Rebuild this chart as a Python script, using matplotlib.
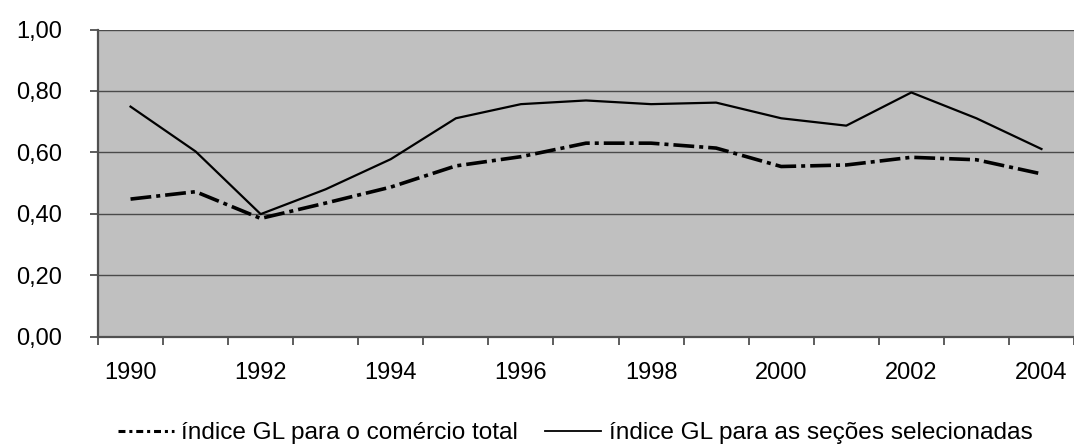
import numpy as np
import matplotlib.pyplot as plt
from matplotlib.lines import Line2D
from matplotlib.ticker import FuncFormatter

plt.rcParams['font.family'] = ['Liberation Sans', 'DejaVu Sans']
plt.rcParams['lines.scale_dashes'] = False

years = [1990, 1991, 1992, 1993, 1994, 1995, 1996, 1997, 1998, 1999,
         2000, 2001, 2002, 2003, 2004]
gl_total = [0.448, 0.472, 0.385, 0.435, 0.487, 0.556, 0.586, 0.630, 0.630,
            0.614, 0.554, 0.559, 0.584, 0.576, 0.530]
gl_secoes = [0.749, 0.603, 0.399, 0.480, 0.578, 0.711, 0.757, 0.769, 0.757,
             0.762, 0.711, 0.687, 0.795, 0.711, 0.611]
label_total = 'índice GL para o comércio total'
label_secoes = 'índice GL para as seções selecionadas'

W, H = 1074, 445
fig = plt.figure(figsize=(W / 100, H / 100), dpi=100)
ax = fig.add_axes([98 / W, (H - 336.7) / H, 976 / W, (336.7 - 29.5) / H])
ax.set_facecolor('#c0c0c0')

x = np.arange(len(years))
ax.plot(x, gl_total, color='black', lw=2.6, dashes=(15, 3.6, 2.9, 3.6),
        solid_capstyle='butt', dash_capstyle='butt')
ax.plot(x, gl_secoes, color='black', lw=1.6)

ax.set_xlim(-0.5, -0.5 + 976 / 65.36)
ax.set_ylim(0, 1)

# y axis
ax.set_yticks(np.arange(0, 1.01, 0.2))
ax.yaxis.set_major_formatter(FuncFormatter(lambda v, p: f'{v:.2f}'.replace('.', ',')))
ax.yaxis.grid(True, color='#4a4a4a', lw=1.0)
ax.set_axisbelow(True)

# x axis: tick marks between categories, labels at every other year
ax.set_xticks(np.arange(-0.5, len(years), 1.0))
ax.set_xticklabels([])
ax.set_xticks(x[::2], minor=True)
ax.set_xticklabels([str(y) for y in years[::2]], minor=True)

ax.tick_params(axis='x', which='major', length=6, width=1.3, color='#505050', direction='out')
ax.tick_params(axis='x', which='minor', length=0, pad=18, labelsize=17)
ax.tick_params(axis='y', length=6, width=1.3, color='#505050', pad=20, labelsize=17)

for side in ['top', 'right']:
    ax.spines[side].set_visible(False)
for side in ['left', 'bottom']:
    ax.spines[side].set_color('#505050')
    ax.spines[side].set_linewidth(1.6)

handles = [
    Line2D([], [], color='black', lw=2.2, dashes=(5, 2.8, 2.2, 2.8)),
    Line2D([], [], color='black', lw=1.3),
]
fig.legend(handles, [label_total, label_secoes], loc='center',
           bbox_to_anchor=(575 / W, 0.026), ncol=2, frameon=False,
           fontsize=17.6, handlelength=2.3, handletextpad=0.3,
           columnspacing=1.1, borderpad=0, borderaxespad=0)

fig.savefig('out.png', dpi=100)
